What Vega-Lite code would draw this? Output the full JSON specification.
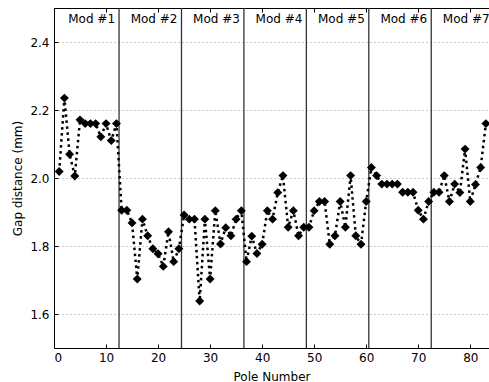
{
  "$schema": "https://vega.github.io/schema/vega-lite/v6.json",
  "width": 435,
  "height": 340,
  "autosize": {"type": "none"},
  "padding": {"left": 54, "top": 8, "right": 0, "bottom": 34},
  "background": "white",
  "config": {
    "view": {"stroke": null},
    "font": "DejaVu Sans",
    "axis": {
      "labelFont": "DejaVu Sans",
      "titleFont": "DejaVu Sans",
      "labelFontSize": 12,
      "titleFontSize": 12,
      "titleFontWeight": "normal",
      "labelColor": "#000",
      "titleColor": "#000",
      "domainColor": "#000",
      "tickColor": "#000",
      "domainWidth": 1,
      "tickWidth": 1
    }
  },
  "datasets": {
    "gap": [
      {"pole": 1, "gap": 2.019}, {"pole": 2, "gap": 2.235}, {"pole": 3, "gap": 2.07}, {"pole": 4, "gap": 2.006},
      {"pole": 5, "gap": 2.171}, {"pole": 6, "gap": 2.16}, {"pole": 7, "gap": 2.16}, {"pole": 8, "gap": 2.16},
      {"pole": 9, "gap": 2.121}, {"pole": 10, "gap": 2.16}, {"pole": 11, "gap": 2.11}, {"pole": 12, "gap": 2.16},
      {"pole": 13, "gap": 1.905}, {"pole": 14, "gap": 1.905}, {"pole": 15, "gap": 1.868}, {"pole": 16, "gap": 1.703},
      {"pole": 17, "gap": 1.879}, {"pole": 18, "gap": 1.83}, {"pole": 19, "gap": 1.792}, {"pole": 20, "gap": 1.777},
      {"pole": 21, "gap": 1.74}, {"pole": 22, "gap": 1.842}, {"pole": 23, "gap": 1.754}, {"pole": 24, "gap": 1.792},
      {"pole": 25, "gap": 1.891}, {"pole": 26, "gap": 1.879}, {"pole": 27, "gap": 1.879}, {"pole": 28, "gap": 1.638},
      {"pole": 29, "gap": 1.879}, {"pole": 30, "gap": 1.703}, {"pole": 31, "gap": 1.904}, {"pole": 32, "gap": 1.806},
      {"pole": 33, "gap": 1.854}, {"pole": 34, "gap": 1.83}, {"pole": 35, "gap": 1.879}, {"pole": 36, "gap": 1.904},
      {"pole": 37, "gap": 1.754}, {"pole": 38, "gap": 1.829}, {"pole": 39, "gap": 1.778}, {"pole": 40, "gap": 1.805},
      {"pole": 41, "gap": 1.904}, {"pole": 42, "gap": 1.879}, {"pole": 43, "gap": 1.957}, {"pole": 44, "gap": 2.007},
      {"pole": 45, "gap": 1.855}, {"pole": 46, "gap": 1.904}, {"pole": 47, "gap": 1.83}, {"pole": 48, "gap": 1.855},
      {"pole": 49, "gap": 1.855}, {"pole": 50, "gap": 1.904}, {"pole": 51, "gap": 1.931}, {"pole": 52, "gap": 1.931},
      {"pole": 53, "gap": 1.805}, {"pole": 54, "gap": 1.83}, {"pole": 55, "gap": 1.931}, {"pole": 56, "gap": 1.855},
      {"pole": 57, "gap": 2.007}, {"pole": 58, "gap": 1.83}, {"pole": 59, "gap": 1.805}, {"pole": 60, "gap": 1.931},
      {"pole": 61, "gap": 2.031}, {"pole": 62, "gap": 2.007}, {"pole": 63, "gap": 1.982}, {"pole": 64, "gap": 1.982},
      {"pole": 65, "gap": 1.982}, {"pole": 66, "gap": 1.982}, {"pole": 67, "gap": 1.958}, {"pole": 68, "gap": 1.958},
      {"pole": 69, "gap": 1.958}, {"pole": 70, "gap": 1.905}, {"pole": 71, "gap": 1.879}, {"pole": 72, "gap": 1.931},
      {"pole": 73, "gap": 1.958}, {"pole": 74, "gap": 1.958}, {"pole": 75, "gap": 2.007}, {"pole": 76, "gap": 1.931},
      {"pole": 77, "gap": 1.982}, {"pole": 78, "gap": 1.957}, {"pole": 79, "gap": 2.085}, {"pole": 80, "gap": 1.931},
      {"pole": 81, "gap": 1.981}, {"pole": 82, "gap": 2.031}, {"pole": 83, "gap": 2.16}
    ],
    "mods": [
      {"mod": "Mod #1", "end": 12.5}, {"mod": "Mod #2", "end": 24.5}, {"mod": "Mod #3", "end": 36.5},
      {"mod": "Mod #4", "end": 48.5}, {"mod": "Mod #5", "end": 60.5}, {"mod": "Mod #6", "end": 72.5},
      {"mod": "Mod #7", "end": 84.5}
    ]
  },
  "resolve": {"axis": {"x": "independent", "y": "independent"}},
  "layer": [
    {
      "data": {"name": "mods"},
      "transform": [{"filter": "datum.end < 80"}],
      "mark": {"type": "rule", "color": "#333", "strokeWidth": 1.3},
      "encoding": {
        "x": {"field": "end", "type": "quantitative", "scale": {"domain": [0, 83.6], "nice": false, "zero": false},
              "axis": {"orient": "top", "labels": false, "title": null, "values": [0,10,20,30,40,50,60,70,80], "tickSize": -4, "grid": false}}
      }
    },
    {
      "data": {"name": "gap"},
      "mark": {"type": "line", "color": "#000", "strokeWidth": 2.5, "strokeDash": [2.5, 3.5]},
      "encoding": {
        "x": {"field": "pole", "type": "quantitative", "scale": {"domain": [0, 83.6], "nice": false, "zero": false},
              "axis": {"orient": "bottom", "title": "Pole Number", "values": [0,10,20,30,40,50,60,70,80], "tickSize": -4, "labelPadding": 8, "titlePadding": 8, "grid": false}},
        "y": {"field": "gap", "type": "quantitative", "scale": {"domain": [1.5, 2.5], "nice": false, "zero": false},
              "axis": {"title": "Gap distance (mm)", "values": [1.6, 1.8, 2.0, 2.2, 2.4], "format": ".1f", "tickSize": -4, "labelPadding": 9, "titlePadding": 5,
                       "grid": true, "gridColor": "#999", "gridDash": [1, 3], "gridWidth": 1}}
      }
    },
    {
      "data": {"name": "gap"},
      "mark": {"type": "point", "shape": "diamond", "filled": true, "color": "#000", "size": 80, "opacity": 1},
      "encoding": {
        "x": {"field": "pole", "type": "quantitative", "axis": null},
        "y": {"field": "gap", "type": "quantitative", "axis": null}
      }
    },
    {
      "data": {"name": "mods"},
      "mark": {"type": "text", "align": "right", "baseline": "top", "dx": -4, "dy": 6, "fontSize": 12, "font": "DejaVu Sans", "color": "#000"},
      "encoding": {
        "x": {"field": "end", "type": "quantitative", "axis": null},
        "y": {"datum": 2.5, "type": "quantitative", "axis": null},
        "text": {"field": "mod"}
      }
    }
  ]
}
